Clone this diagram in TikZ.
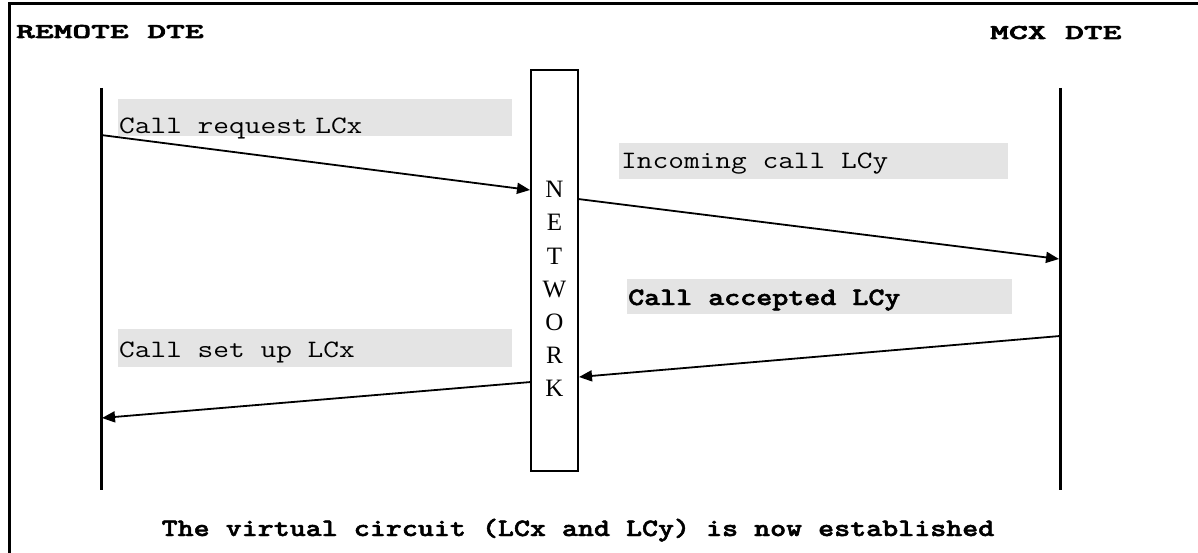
\documentclass[tikz,border=0pt]{standalone}
\usepackage{fontspec}
\setmainfont{Liberation Serif}
\newfontfamily\mybfmono{lmmonolt10-bold.otf}[FakeBold=1.8]
\newfontfamily\myhdrmono{lmmonolt10-bold.otf}[FakeBold=2.5]
\usetikzlibrary{arrows.meta}
\definecolor{lgray}{HTML}{E4E4E4}
\newcommand{\mywide}[1]{\scalebox{1.22}[1]{#1}}
\newcommand{\myhwide}[1]{\scalebox{1.70}[1]{#1}}
\begin{document}
\begin{tikzpicture}[x=1pt,y=-1pt,
  lbl/.style={anchor=base west,inner sep=0pt,font=\fontsize{25}{30}\selectfont\ttfamily},
  lblb/.style={anchor=base west,inner sep=0pt,font=\fontsize{25}{30}\selectfont\mybfmono},
  hdr/.style={anchor=base west,inner sep=0pt,font=\fontsize{21}{26}\selectfont\myhdrmono},
  graybox/.style={fill=lgray,draw=none},
  frame/.style={line width=3pt},
  life/.style={line width=3pt},
  msg/.style={line width=1.8pt,-{Triangle[length=13pt,width=11pt]}},
  net/.style={draw,line width=1.6pt,minimum width=47pt,minimum height=401pt,inner sep=0pt},
  netl/.style={anchor=base,inner sep=0pt,font=\fontsize{25}{26}\selectfont\rmfamily}]
\useasboundingbox (0,0) rectangle (1198,553);
% frame
\coordinate (fTL) at (9,4);
\coordinate (fTR) at (1198,4);
\coordinate (fBL) at (9,553);
\draw[frame] (fTR) -- (fTL) -- (fBL);
% headers
\node[hdr] (remote) at (16,38) {\myhwide{REMOTE DTE}};
\node[hdr] (mcx) at (990,39) {\myhwide{MCX DTE}};
% lifelines
\coordinate (Ltop) at (101,88);
\coordinate (Lbot) at (101,490);
\coordinate (Rtop) at (1060,88);
\coordinate (Rbot) at (1060,490);
\draw[life] (Ltop) -- (Lbot);
\draw[life] (Rtop) -- (Rbot);
% gray label boxes
\fill[graybox] (118,99) rectangle (512,136);
\fill[graybox] (619,143) rectangle (1008,179);
\fill[graybox] (627,279) rectangle (1012,314);
\fill[graybox] (118,329) rectangle (512,367);
% labels
\node[lbl] (t1) at (119,134) {\mywide{Call request\hspace{0.25em}LCx}};
\node[lbl] (t2) at (621,169) {\mywide{Incoming call LCy}};
\node[lblb] (t3) at (628,305) {\mywide{Call accepted LCy}};
\node[lbl] (t4) at (119,357) {\mywide{Call set up LCx}};
% network box
\node[net] (net) at (554.5,270.5) {};
\foreach \l [count=\i from 0] in {N,E,T,W,O,R,K}
  \node[netl] (n\i) at (554.5,198+33*\i) {\l};
% message endpoints
\coordinate (a1s) at (101,135);
\coordinate (a1e) at (530,190);
\coordinate (a2s) at (578,199);
\coordinate (a2e) at (1059,259);
\coordinate (a3s) at (1060,336);
\coordinate (a3e) at (579,377);
\coordinate (a4s) at (531,382);
\coordinate (a4e) at (102,418);
\draw[msg] (a1s) -- (a1e);
\draw[msg] (a2s) -- (a2e);
\draw[msg] (a3s) -- (a3e);
\draw[msg] (a4s) -- (a4e);
% bottom caption
\node[lblb,anchor=base] (caption) at (578,536) {\mywide{The virtual circuit (LCx and LCy) is now established}};
\end{tikzpicture}
\end{document}
